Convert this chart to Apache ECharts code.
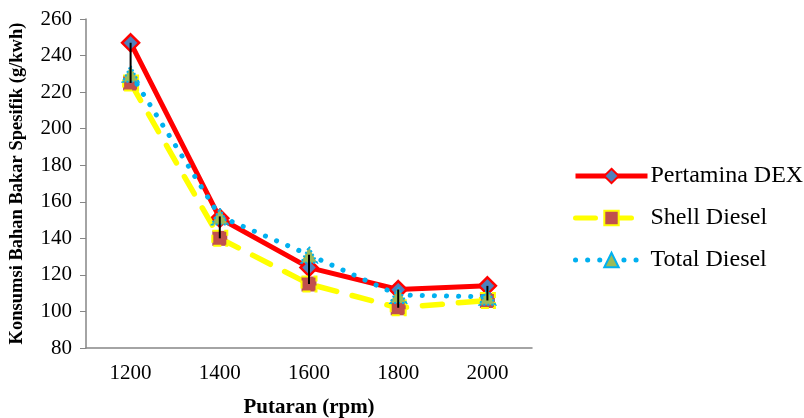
<!DOCTYPE html>
<html><head><meta charset="utf-8">
<script src="https://cdn.jsdelivr.net/npm/echarts@6/dist/echarts.min.js"></script>
<style>html,body{margin:0;padding:0;background:#fff}#c{width:804px;height:418px}</style>
</head><body><div id="c"></div>
<script>
const categories = ['1200', '1400', '1600', '1800', '2000'];
const pertamina = [247, 151, 124, 112, 114];
const shell = [225, 140, 115, 102, 106];
const total = [230, 152, 131, 109, 108];
const seriesNames = ['Pertamina DEX', 'Shell Diesel', 'Total Diesel'];
const yTicks = { min: 80, max: 260, interval: 20 };

const hiLo = categories.map((c, i) => {
  const v = [pertamina[i], shell[i], total[i]];
  return [i, Math.min(...v), Math.max(...v)];
});

const font = '"Liberation Serif", "Times New Roman", serif';
const chart = echarts.init(document.getElementById('c'));
chart.setOption({
  animation: false,
  textStyle: { fontFamily: font },
  grid: { left: 86, right: 272, top: 19, bottom: 70, containLabel: false, outerBoundsMode: 'none' },
  legend: {
    orient: 'vertical', left: 573, top: 164, itemGap: 18, padding: 0,
    itemWidth: 72, itemHeight: 18,
    lineStyle: { width: 5 },
    textStyle: { fontFamily: font, fontSize: 24, color: '#000', padding: [0, 0, 0, -2] },
    data: seriesNames
  },
  xAxis: {
    type: 'category', data: categories, boundaryGap: true,
    name: 'Putaran (rpm)', nameLocation: 'middle', nameGap: 49,
    nameTextStyle: { fontFamily: font, fontSize: 21, fontWeight: 'bold', color: '#000' },
    axisLine: { lineStyle: { color: '#868686', width: 1.5 } },
    axisTick: { show: false },
    axisLabel: { fontFamily: font, fontSize: 21, color: '#000', margin: 15 }
  },
  yAxis: {
    type: 'value', min: yTicks.min, max: yTicks.max, interval: yTicks.interval,
    name: 'Konsumsi Bahan Bakar Spesifik (g/kwh)', nameLocation: 'middle', nameGap: 59,
    nameTextStyle: { fontFamily: font, fontSize: 18.5, fontWeight: 'bold', color: '#000' },
    axisLine: { show: true, lineStyle: { color: '#868686', width: 1.5 } },
    axisTick: { show: true, length: 6, lineStyle: { color: '#868686' } },
    splitLine: { show: false },
    axisLabel: { fontFamily: font, fontSize: 21, color: '#000', margin: 14 }
  },
  series: [
    {
      name: seriesNames[0], type: 'line', data: pertamina, z: 3,
      symbol: 'diamond', symbolSize: 17,
      lineStyle: { color: '#FF0000', width: 5 },
      itemStyle: { color: '#4F81BD', borderColor: '#FF0000', borderWidth: 2.5 }
    },
    {
      name: seriesNames[1], type: 'line', data: shell, z: 4,
      symbol: 'rect', symbolSize: 15,
      lineStyle: { color: '#FFFF00', width: 5.5, type: [20, 16], cap: 'round' },
      itemStyle: { color: '#C0504D', borderColor: '#FFFF00', borderWidth: 2, borderType: 'dashed' }
    },
    {
      name: seriesNames[2], type: 'line', data: total, z: 5,
      symbol: 'triangle', symbolSize: 16,
      lineStyle: { color: '#00B0F0', width: 5, type: [0.1, 12], cap: 'round' },
      itemStyle: { color: '#9BBB59', borderColor: '#00B0F0', borderWidth: 2, borderType: 'dotted' }
    },
    {
      type: 'custom', z: 10, silent: true, data: hiLo,
      renderItem: function (params, api) {
        const p1 = api.coord([api.value(0), api.value(1)]);
        const p2 = api.coord([api.value(0), api.value(2)]);
        return { type: 'line', shape: { x1: p1[0], y1: p1[1], x2: p2[0], y2: p2[1] },
          style: { stroke: '#000', lineWidth: 2 } };
      }
    }
  ]
});
</script></body></html>
